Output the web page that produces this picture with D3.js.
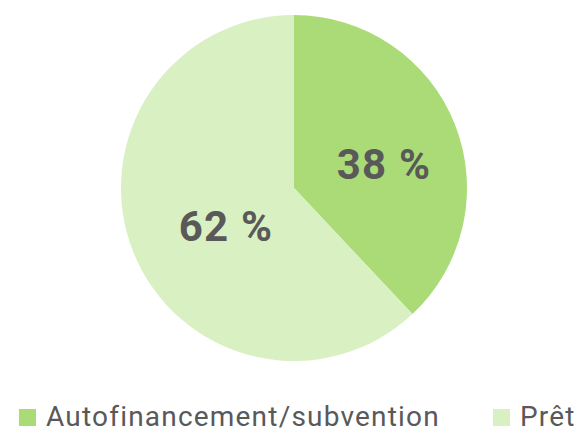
<!DOCTYPE html>
<html><head><meta charset="utf-8">
<script src="https://cdn.jsdelivr.net/npm/d3@7"></script>
<style>html,body{margin:0;padding:0;background:#fff;}svg{display:block;}</style>
</head><body>
<svg id="c" width="576" height="428"></svg>
<script>
const categories = ["Autofinancement/subvention", "Prêt"];
const values = [38, 62];
const labels = ["38 %", "62 %"];
const colors = ["#ABDB77", "#D9F0C3"];

const svg = d3.select("#c");
const cx = 294, cy = 188, R = 173;
const g = svg.append("g").attr("transform", `translate(${cx},${cy})`);
const pie = d3.pie().sort(null).value(d => d)(values);
const arc = d3.arc().innerRadius(0).outerRadius(R);
g.selectAll("path").data(pie).enter().append("path")
  .attr("d", arc).attr("fill", (d,i) => colors[i]);

const labelArc = d3.arc().innerRadius(0).outerRadius(170);
g.selectAll("text.lbl").data(pie).enter().append("text")
  .attr("class","lbl")
  .attr("transform", d => { const c = labelArc.centroid(d); return `translate(${c[0]+11},${c[1]+7})`; })
  .attr("text-anchor","middle").attr("dy","0.36em")
  .attr("font-family","Roboto, 'Liberation Sans', sans-serif")
  .attr("font-weight","bold").attr("font-size", 42).attr("letter-spacing", 1.2).attr("fill","#595959")
  .text((d,i) => labels[i]);

const leg = svg.append("g");
const legX = [19, 493];
categories.forEach((c,i) => {
  leg.append("rect").attr("x", legX[i]).attr("y", 409).attr("width", 17).attr("height", 17).attr("fill", colors[i]);
  leg.append("text").attr("x", legX[i] + 27).attr("y", 426)
    .attr("font-family","Roboto, 'Liberation Sans', sans-serif")
    .attr("font-size", 28).attr("letter-spacing", 1.2).attr("fill","#595959").text(c);
});
</script>
</body></html>
